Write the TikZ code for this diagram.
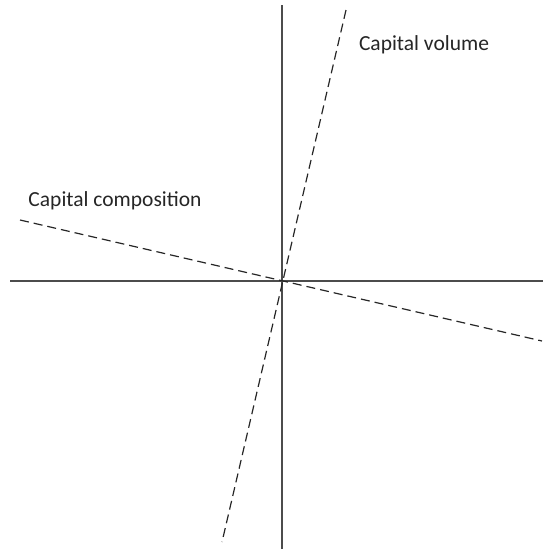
\documentclass[tikz,border=0pt]{standalone}
\usepackage{fontspec}
\setmainfont{Carlito}
\begin{document}
\begin{tikzpicture}[x=1pt,y=-1pt,
  axis/.style={draw=black!70,line width=1.3pt},
  trend/.style={draw=black!85,line width=1.2pt,dash pattern=on 9pt off 5pt},
  lbl/.style={font=\fontsize{21.5}{24}\selectfont,text=black!85,inner sep=0pt,anchor=base}]
\useasboundingbox (0,0) rectangle (543,549);
\coordinate (vtop) at (282,5);
\coordinate (vbot) at (282,549);
\coordinate (hleft) at (10,281);
\coordinate (hright) at (543,281);
\coordinate (atop) at (346,10);
\coordinate (abot) at (222,542);
\coordinate (bleft) at (20,220);
\coordinate (bright) at (542,341);
\draw[axis] (vtop) -- (vbot);
\draw[axis] (hleft) -- (hright);
\draw[trend] (atop) -- (abot);
\draw[trend] (bleft) -- (bright);
\node[lbl] (vol) at (424,50) {Capital volume};
\node[lbl] (comp) at (115,206) {Capital composition};
\end{tikzpicture}
\end{document}
